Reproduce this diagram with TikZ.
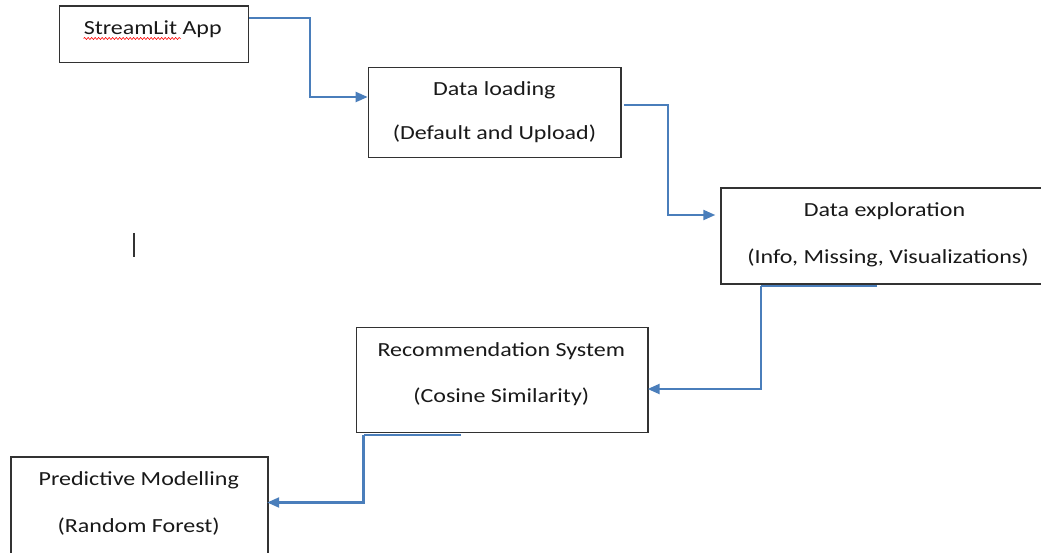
\documentclass[tikz,border=0pt]{standalone}
\usepackage{fontspec}
\setmainfont{Carlito}[FakeStretch=1.2]
\usetikzlibrary{arrows.meta,decorations.pathmorphing}
\definecolor{connblue}{RGB}{74,126,187}
\definecolor{boxgray}{RGB}{50,50,50}
\tikzset{
  box/.style={draw=boxgray, line width=1.4pt, rectangle, inner sep=0pt},
  lbl/.style={anchor=base, inner sep=0pt, font=\fontsize{20}{24}\selectfont, text=black!90},
  conn/.style={draw=connblue, line width=2.2pt, -{Triangle[length=12pt,width=10pt]}},
  plain/.style={draw=connblue, line width=2.2pt}
}
\begin{document}
\begin{tikzpicture}[x=1pt,y=-1pt]
\useasboundingbox (0,0) rectangle (1041,553);
\fill[white] (0,0) rectangle (1041,553);
% boxes
\node[box, minimum width=189pt, minimum height=56.7pt] (b1) at (153.8,34.35) {};
\node[box, minimum width=252.7pt, minimum height=90pt] (b2) at (494.7,112.3) {};
\node[box, minimum width=329pt, minimum height=96pt] (b3) at (885.5,236) {};
\node[box, minimum width=291.3pt, minimum height=105.4pt] (b4) at (502.3,380) {};
\node[box, minimum width=257pt, minimum height=103pt] (b5) at (139.5,508.5) {};
% texts
\node[lbl] (t1) at (152.7,35) {StreamLit App};
\node[lbl] (t2a) at (494.3,96) {Data loading};
\node[lbl] (t2b) at (494.5,140) {(Default and Upload)};
\node[lbl] (t3a) at (884.5,216.5) {Data exploration};
\node[lbl] (t3b) at (888,264) {(Info, Missing, Visualizations)};
\node[lbl] (t4a) at (501.3,356) {Recommendation System};
\node[lbl] (t4b) at (501.3,402) {(Cosine Similarity)};
\node[lbl] (t5a) at (138.8,485) {Predictive Modelling};
\node[lbl] (t5b) at (138.7,532) {(Random Forest)};
% spell-check underline
\draw[red, line width=0.6pt, decorate, decoration={snake, amplitude=1pt, segment length=3.5pt}]
  ([yshift=-3.5pt]t1.base west) -- ([xshift=97pt,yshift=-3.5pt]t1.base west);
% connectors
\draw[conn] ([yshift=-13pt]b1.north east) -| ([xshift=-58pt,yshift=15.3pt]b2.west) -- ([yshift=15.3pt]b2.west);
\draw[conn] ([xshift=2pt,yshift=7.3pt]b2.east) -| ([xshift=-52pt,yshift=21pt]b3.west) -- ([xshift=-5pt,yshift=21pt]b3.west);
\draw[plain] ([xshift=-8.5pt,yshift=-1pt]b3.south) -- ([xshift=-124.5pt,yshift=-1pt]b3.south) coordinate (k3);
\draw[conn] (k3) |- ([xshift=-1pt,yshift=-9pt]b4.east);
\draw[plain] ([xshift=-41.3pt,yshift=-1.3pt]b4.south) -- ([xshift=-138.8pt,yshift=-1.3pt]b4.south) coordinate (k4);
\draw[conn] (k4) |- ([xshift=-1.5pt,yshift=6pt]b5.east);
% text cursor
\draw[line width=1.3pt, black!80] (134,233) -- (134,257);
\end{tikzpicture}
\end{document}
